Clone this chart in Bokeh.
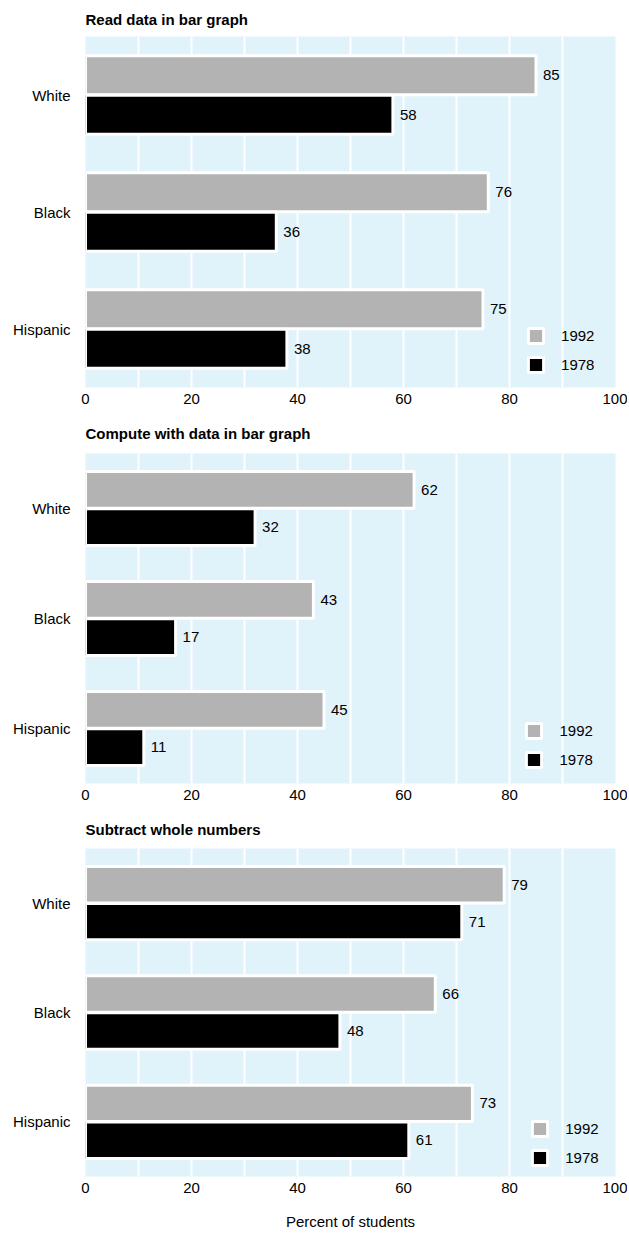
from bokeh.plotting import figure
from bokeh.models import FactorRange, Range1d, ColumnDataSource, FixedTicker, Legend, LegendItem
from bokeh.transform import dodge
from bokeh.layouts import column
from bokeh.embed import file_html
from bokeh.resources import INLINE
from bokeh.core.properties import value

# ---- data ----
groups = ["White", "Black", "Hispanic"]
years = ["1992", "1978"]
titles = ["Read data in bar graph", "Compute with data in bar graph", "Subtract whole numbers"]
read_1992 = [85, 76, 75]
read_1978 = [58, 36, 38]
compute_1992 = [62, 43, 45]
compute_1978 = [32, 17, 11]
subtract_1992 = [79, 66, 73]
subtract_1978 = [71, 48, 61]
x_ticks = [0, 20, 40, 60, 80, 100]
grid_ticks = [10, 20, 30, 40, 50, 60, 70, 80, 90]
x_label = "Percent of students"

# ---- style ----
FONT = "Liberation Sans"
FS = "15px"
BG = "#e0f2fa"
GRAY = "#b3b3b3"
BLACK = "#000000"
FRAME_W = 530
OFF = 0.169
BAR_H = 0.333


def make_panel(title, v92, v78, frame_h, top, bottom, leg_val, leg_bottom, title_standoff, with_label):
    p = figure(y_range=FactorRange(factors=groups[::-1]), x_range=Range1d(0, 100),
               frame_width=FRAME_W, frame_height=frame_h,
               min_border_left=85, min_border_right=12, min_border_top=top, min_border_bottom=bottom,
               output_backend="svg", toolbar_location=None, title=title)
    p.background_fill_color = BG
    p.border_fill_color = "white"
    p.outline_line_color = None

    p.title.text_font = FONT
    p.title.text_font_size = FS
    p.title.text_font_style = "bold"
    p.title.text_color = "black"
    p.title.align = "left"
    p.title.offset = 0
    p.title.standoff = title_standoff

    src = ColumnDataSource(dict(cat=groups, v92=v92, v78=v78,
                                l92=[str(v) for v in v92], l78=[str(v) for v in v78]))
    r92 = p.hbar(y=dodge("cat", OFF, range=p.y_range), left=0, right="v92", height=BAR_H,
                 fill_color=GRAY, line_color="white", line_width=3, source=src)
    r78 = p.hbar(y=dodge("cat", -OFF, range=p.y_range), left=0, right="v78", height=BAR_H,
                 fill_color=BLACK, line_color="white", line_width=3, source=src)
    for col, off in (("92", OFF), ("78", -OFF)):
        p.text(x="v" + col, y=dodge("cat", off, range=p.y_range), text="l" + col, source=src,
               x_offset=7, text_baseline="middle", text_align="left",
               text_font=value(FONT), text_font_size=value(FS), text_color="black")

    leg_x = leg_val * FRAME_W / 100.0 - 1.5
    legend = Legend(items=[LegendItem(label=years[0], renderers=[r92]),
                           LegendItem(label=years[1], renderers=[r78])],
                    location=(leg_x, leg_bottom), orientation="vertical",
                    glyph_width=19, glyph_height=19, label_height=19, spacing=10,
                    padding=0, margin=0, label_standoff=16,
                    border_line_color=None, background_fill_alpha=0,
                    label_text_font=FONT, label_text_font_size=FS, label_text_color="black")
    p.add_layout(legend)

    p.xgrid.ticker = FixedTicker(ticks=grid_ticks)
    p.xgrid.grid_line_color = "white"
    p.xgrid.grid_line_width = 2
    p.ygrid.grid_line_color = None

    p.xaxis.ticker = FixedTicker(ticks=x_ticks)
    for ax in (p.xaxis[0], p.yaxis[0]):
        ax.axis_line_color = None
        ax.major_tick_line_color = None
        ax.minor_tick_line_color = None
        ax.major_tick_out = 0
        ax.major_tick_in = 0
        ax.major_label_text_font = FONT
        ax.major_label_text_font_size = FS
        ax.major_label_text_color = "black"
    p.xaxis.major_label_standoff = 6
    p.yaxis.major_label_standoff = 15
    if with_label:
        p.xaxis.axis_label = x_label
        p.xaxis.axis_label_text_font = FONT
        p.xaxis.axis_label_text_font_size = FS
        p.xaxis.axis_label_text_font_style = "normal"
        p.xaxis.axis_label_text_color = "black"
        p.xaxis.axis_label_standoff = 17
    return p


p1 = make_panel(titles[0], read_1992, read_1978, 351, 35, 24, 83.5, 13.5, 17, False)
p2 = make_panel(titles[1], compute_1992, compute_1978, 330, 20, 24, 83.2, 14.5, 23, False)
p3 = make_panel(titles[2], subtract_1992, subtract_1978, 328, 20, 56, 84.3, 9.5, 22, True)

layout = column(p1, p2, p3, spacing=0)
open("out.html", "w").write(file_html(layout, INLINE))
